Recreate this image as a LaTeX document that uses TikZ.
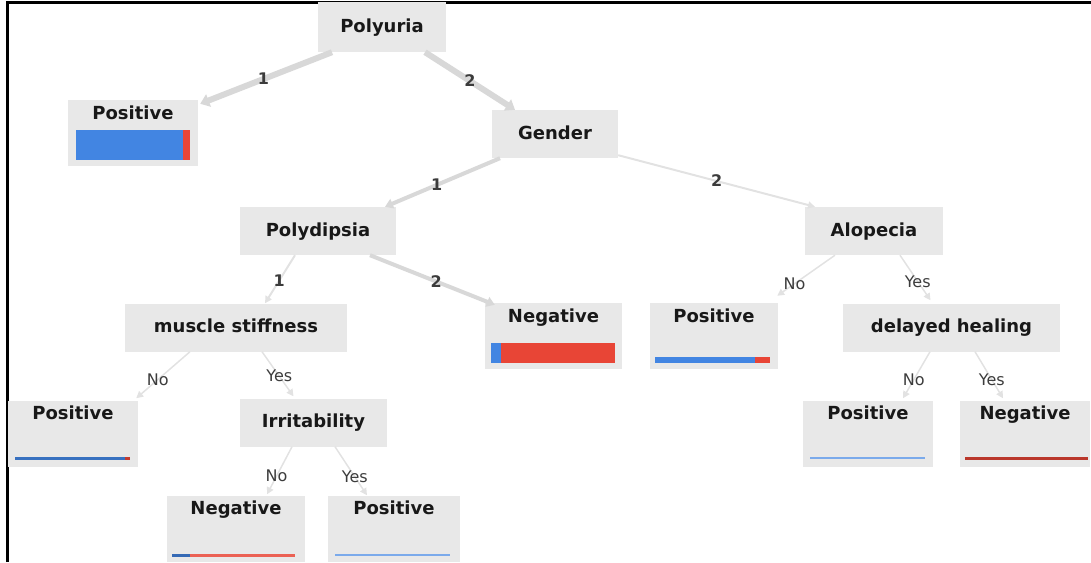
\documentclass[tikz,border=0pt]{standalone}
\usepackage{fontspec}
\setmainfont{DejaVu Sans}
\usepackage{tikz}
\usetikzlibrary{positioning,arrows.meta}

\definecolor{boxgray}{RGB}{232,232,232}
\definecolor{edgegray}{RGB}{216,216,216}
\definecolor{edgelight}{RGB}{226,226,226}
\definecolor{posblue}{RGB}{66,133,226}
\definecolor{negred}{RGB}{232,69,54}
\definecolor{textblack}{RGB}{24,24,24}
\definecolor{labelgray}{RGB}{60,60,60}

\begin{document}
\begin{tikzpicture}[
	x=1pt, y=-1pt,
	splitnode/.style={rectangle, fill=boxgray, text=textblack, font=\fontsize{18}{20}\selectfont\bfseries, text height=14pt, text depth=4pt, inner sep=0pt, minimum height=48pt},
	leafnode/.style={rectangle, fill=boxgray, text=textblack, font=\fontsize{18}{20}\selectfont\bfseries, text height=14pt, text depth=42pt, inner xsep=0pt, inner ysep=5pt},
	thickedge/.style={draw=edgegray, line width=6pt, -{Triangle[length=9pt,width=13pt]}},
	midedge/.style={draw=edgegray, line width=4pt, -{Triangle[length=8pt,width=10pt]}},
	thinedge/.style={draw=edgelight, line width=2pt, -{Triangle[length=7pt,width=7pt]}},
	edgelabel/.style={font=\fontsize{16}{16}\selectfont, text=labelgray, inner sep=1pt},
	numlabel/.style={edgelabel, font=\fontsize{16}{16}\selectfont\bfseries, text=textblack!85},
	]
	\useasboundingbox (0,0) rectangle (1091,562);
	
	%Frame
	\draw[line width=2.5pt] (7.5,562) -- (7.5,2.5) -- (1091,2.5);
	
	%Nodes
	\node[splitnode, minimum width=128pt, minimum height=50pt] (Polyuria) at (382,27) {Polyuria};
	\node[leafnode, minimum width=130pt] (PositiveA) at (133,133) {Positive};
	\node[splitnode, minimum width=126pt] (Gender) at (555,134) {Gender};
	\node[splitnode, minimum width=156pt] (Polydipsia) at (318,231) {Polydipsia};
	\node[splitnode, minimum width=138pt] (Alopecia) at (874,231) {Alopecia};
	\node[splitnode, minimum width=222pt] (MuscleStiff) at (236,327.5) {muscle stiffness};
	\node[leafnode, minimum width=137pt] (NegativeA) at (553.5,336) {Negative};
	\node[leafnode, minimum width=128pt] (PositiveB) at (714,336) {Positive};
	\node[splitnode, minimum width=217pt] (DelayedHeal) at (951.5,327.5) {delayed healing};
	\node[leafnode, minimum width=130pt] (PositiveC) at (73,433.5) {Positive};
	\node[splitnode, minimum width=147pt] (Irritability) at (313.5,422.5) {Irritability};
	\node[leafnode, minimum width=130pt] (PositiveD) at (868,433.5) {Positive};
	\node[leafnode, minimum width=130pt] (NegativeB) at (1025,433.5) {Negative};
	\node[leafnode, minimum width=138pt] (NegativeC) at (236,528.5) {Negative};
	\node[leafnode, minimum width=132pt] (PositiveE) at (394,528.5) {Positive};
	
	%Bars
	\fill[posblue] (76,130) rectangle (183,160);
	\fill[negred] (183,130) rectangle (190,160);
	\fill[posblue] (491,343) rectangle (501,363);
	\fill[negred] (501,343) rectangle (615,363);
	\fill[posblue] (655,357) rectangle (755,363);
	\fill[negred] (755,357) rectangle (770,363);
	\fill[posblue!85!black] (15,457) rectangle (125,460);
	\fill[negred!85!black] (125,457) rectangle (130,460);
	\fill[posblue!70!white] (810,457) rectangle (925,459);
	\fill[negred!80!black] (965,457) rectangle (1088,460);
	\fill[posblue!80!black] (172,554) rectangle (190,557);
	\fill[negred!85!white] (190,554) rectangle (295,557);
	\fill[posblue!70!white] (335,554) rectangle (450,556);
	
	%Lines
	\draw[thickedge] ([xshift=-50pt]Polyuria.south) -- ([xshift=2pt,yshift=-4pt]PositiveA.north east)
		node[numlabel, pos=.52] (LabA) {1};
	\draw[thickedge] ([xshift=43pt]Polyuria.south) -- ([xshift=-40pt]Gender.north)
		node[numlabel, pos=.5] (LabB) {2};
	\draw[midedge] ([xshift=-55pt]Gender.south) -- ([xshift=67pt]Polydipsia.north)
		node[numlabel, pos=.55] (LabC) {1};
	\draw[thinedge] ([yshift=3pt]Gender.south east) -- ([xshift=-59pt]Alopecia.north)
		node[numlabel, pos=.5] (LabD) {2};
	\draw[thinedge] ([xshift=-23pt]Polydipsia.south) -- ([xshift=29pt]MuscleStiff.north)
		node[numlabel, pos=.53] (LabE) {1};
	\draw[midedge] ([xshift=52pt]Polydipsia.south) -- ([xshift=10pt,yshift=-2pt]NegativeA.north west)
		node[numlabel, pos=.53] (LabF) {2};
	\draw[thinedge, line width=1.5pt] ([xshift=-46pt]MuscleStiff.south) -- ([xshift=-2pt,yshift=2pt]PositiveC.north east)
		node[edgelabel, pos=.6] (LabG) {No};
	\draw[thinedge, line width=1.5pt] ([xshift=26pt]MuscleStiff.south) -- ([xshift=-20pt,yshift=2pt]Irritability.north)
		node[edgelabel, pos=.55] (LabH) {Yes};
	\draw[thinedge, line width=1.5pt] ([xshift=-21.5pt]Irritability.south) -- ([xshift=31pt,yshift=1pt]NegativeC.north)
		node[edgelabel, pos=.62] (LabI) {No};
	\draw[thinedge, line width=1.5pt] ([xshift=21.5pt]Irritability.south) -- ([xshift=-27pt]PositiveE.north)
		node[edgelabel, pos=.62] (LabJ) {Yes};
	\draw[thinedge, line width=1.5pt] ([xshift=-39pt]Alopecia.south) -- ([xshift=-1pt,yshift=7pt]PositiveB.north east)
		node[edgelabel, pos=.7] (LabK) {No};
	\draw[thinedge, line width=1.5pt] ([xshift=26pt]Alopecia.south) -- ([xshift=-21pt,yshift=3pt]DelayedHeal.north)
		node[edgelabel, pos=.58] (LabL) {Yes};
	\draw[thinedge, line width=1.5pt] ([xshift=-21.5pt]DelayedHeal.south) -- ([xshift=35pt,yshift=2pt]PositiveD.north)
		node[edgelabel, pos=.6] (LabM) {No};
	\draw[thinedge, line width=1.5pt] ([xshift=23.5pt]DelayedHeal.south) -- ([xshift=-22pt,yshift=2pt]NegativeB.north)
		node[edgelabel, pos=.6] (LabN) {Yes};
	
\end{tikzpicture}
\end{document}
